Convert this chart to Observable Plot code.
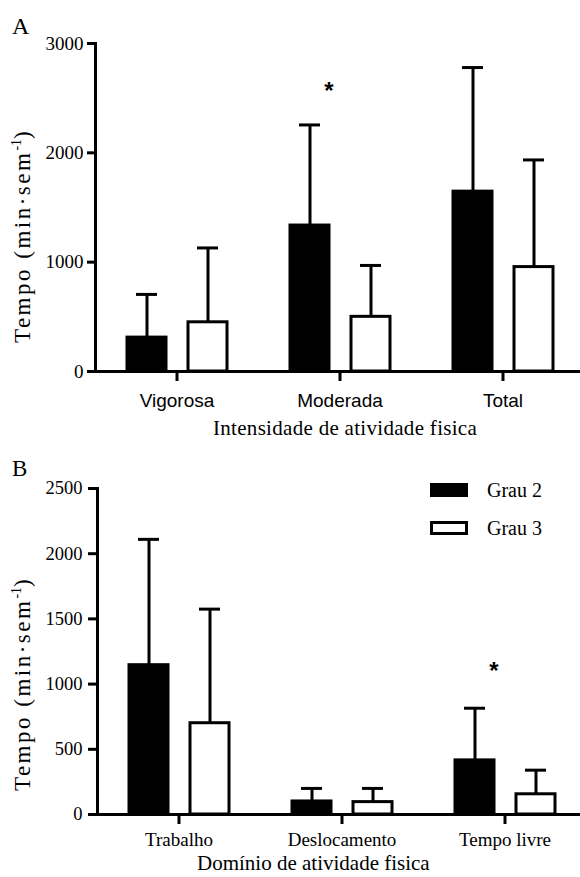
<!DOCTYPE html>
<html><head><meta charset="utf-8">
<script src="https://cdn.jsdelivr.net/npm/d3@7"></script>
<script src="https://cdn.jsdelivr.net/npm/@observablehq/plot@0.6"></script>
<style>
body{margin:0;background:#fff;}
#wrap{position:relative;width:580px;height:877px;overflow:hidden;background:#fff;}
#wrap svg{display:block;}
.ov{position:absolute;white-space:nowrap;color:#000;line-height:1;}
.serif{font-family:"Liberation Serif","Times New Roman",serif;}
.ytitle{font-size:23px;letter-spacing:2.5px;transform:translate(-50%,-50%) rotate(-90deg);}
.ytitle sup{font-size:0.6em;letter-spacing:0;}
.box{position:absolute;box-sizing:border-box;width:38px;height:14px;border:3px solid #000;}
</style></head><body>
<div id="wrap">
  <div id="chartA"></div>
  <div id="chartB"></div>
  <div class="ov serif" style="left:12px;top:14px;font-size:24px;">A</div>
  <div class="ov serif" style="left:12px;top:457px;font-size:23px;">B</div>
  <div class="ov serif ytitle" style="left:22px;top:236px;">Tempo (min·sem<sup>-1</sup>)</div>
  <div class="ov serif ytitle" style="left:22px;top:684px;">Tempo (min·sem<sup>-1</sup>)</div>
  <div class="ov serif" style="left:213px;top:418px;font-size:21px;letter-spacing:0.3px;">Intensidade de atividade fisica</div>
  <div class="ov serif" style="left:197px;top:853px;font-size:21px;">Domínio de atividade fisica</div>
  <div class="box" style="left:430px;top:483px;background:#000;"></div>
  <div class="box" style="left:430px;top:521px;background:#fff;"></div>
  <div class="ov serif" style="left:487px;top:480px;font-size:20px;">Grau 2</div>
  <div class="ov serif" style="left:487px;top:518px;font-size:20px;">Grau 3</div>
</div>
<script>
const SERIF = "Liberation Serif, Times New Roman, serif";
const SANS = "Liberation Sans, Arial, sans-serif";

const series = ["Grau 2", "Grau 3"];

// Panel A: intensity
const catsA = ["Vigorosa", "Moderada", "Total"];
const meanA_g2 = [310, 1335, 1645];
const upperA_g2 = [705, 2255, 2780];
const meanA_g3 = [450, 500, 955];
const upperA_g3 = [1130, 970, 1935];
const ticksA = [0, 1000, 2000, 3000];
const sigA = [{cat: "Moderada", grau: "Grau 2", y: 2620}];

// Panel B: domain
const catsB = ["Trabalho", "Deslocamento", "Tempo livre"];
const meanB_g2 = [1145, 100, 415];
const upperB_g2 = [2110, 200, 815];
const meanB_g3 = [700, 95, 155];
const upperB_g3 = [1575, 200, 340];
const ticksB = [0, 500, 1000, 1500, 2000, 2500];
const sigB = [{cat: "Tempo livre", grau: "Grau 2", y: 1145}];

function rows(cats, m2, u2, m3, u3) {
  const out = [];
  cats.forEach((c, i) => {
    out.push({cat: c, grau: series[0], mean: m2[i], upper: u2[i]});
    out.push({cat: c, grau: series[1], mean: m3[i], upper: u3[i]});
  });
  return out;
}

function panel(cats, data, ticks, sig, o) {
  return Plot.plot({
    width: 580, height: o.height,
    marginLeft: o.ml, marginRight: o.mr, marginTop: o.mt, marginBottom: o.mb,
    style: {background: "white", overflow: "visible"},
    fx: {domain: cats, padding: 0, label: null},
    x: {domain: series, paddingInner: 0.363, paddingOuter: 0.5025, axis: null},
    y: {domain: [ticks[0], ticks[ticks.length - 1]]},
    color: {domain: series, range: ["black", "white"]},
    marks: [
      Plot.axisY({ticks, tickFormat: d => String(d), tickSize: o.ts, tickPadding: o.tp, strokeWidth: 3, fontSize: o.yfs, fontFamily: SERIF, label: null}),
      Plot.axisFx({anchor: "bottom", tickSize: 10, tickPadding: o.xtp, strokeWidth: 3, fontSize: 19, fontFamily: o.xfont, label: null}),
      Plot.frame({anchor: "left", strokeWidth: 3, facetAnchor: "left"}),
      Plot.ruleX(data, {fx: "cat", x: "grau", y1: "mean", y2: "upper", strokeWidth: 3}),
      Plot.tickY(data, {fx: "cat", x: "grau", y: "upper", strokeWidth: 3, insetLeft: 9, insetRight: 9}),
      Plot.barY(data, {fx: "cat", x: "grau", y: "mean", fill: "grau", stroke: "black", strokeWidth: 3}),
      Plot.ruleY([0], {strokeWidth: 3}),
      Plot.text(sig, {fx: "cat", x: "grau", y: "y", text: () => "*", dx: 19, dy: 6, fontSize: 24, fontWeight: "bold", fontFamily: SANS})
    ]
  });
}

const dataA = rows(catsA, meanA_g2, upperA_g2, meanA_g3, upperA_g3);
const dataB = rows(catsB, meanB_g2, upperB_g2, meanB_g3, upperB_g3);

document.getElementById("chartA").append(panel(catsA, dataA, ticksA, sigA,
  {height: 440, ml: 94, mr: -5, mt: 43, mb: 69, ts: 8, tp: 4, yfs: 19, xtp: 12, xfont: SANS}));
document.getElementById("chartB").append(panel(catsB, dataB, ticksB, sigB,
  {height: 437, ml: 97, mr: -6, mt: 48, mb: 63, ts: 9, tp: 6, yfs: 18.5, xtp: 8, xfont: SERIF}));
</script>
</body></html>
